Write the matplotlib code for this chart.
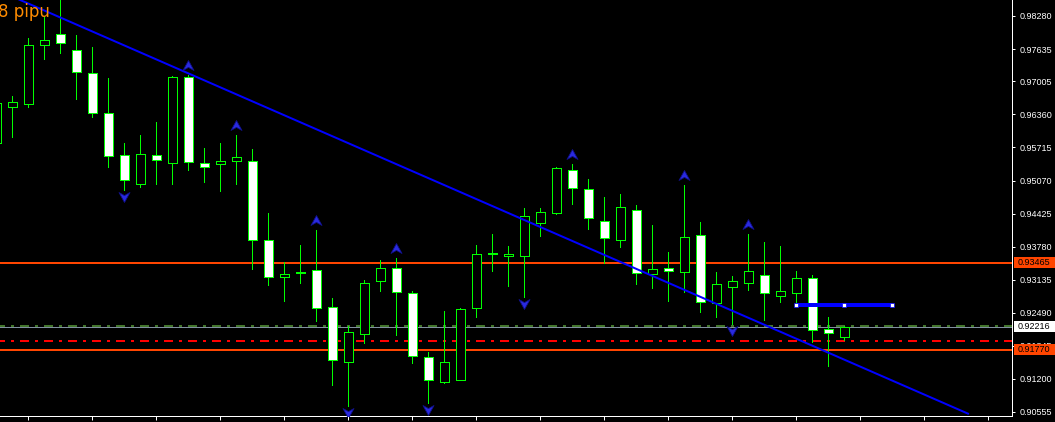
import matplotlib
matplotlib.use('Agg')
import matplotlib.pyplot as plt
from matplotlib.patches import Rectangle
from matplotlib.path import Path
from matplotlib.transforms import offset_copy, blended_transform_factory

# ---------------- data ----------------
opens = [0.95802, 0.96504, 0.96563, 0.97714, 0.97929, 0.97617, 0.97168, 0.96387, 0.95568, 0.95002,
         0.95568, 0.95412, 0.97090, 0.95412, 0.95392, 0.95451, 0.95451, 0.93910, 0.93188, 0.93266,
         0.93324, 0.92602, 0.91529, 0.92076, 0.93110, 0.93363, 0.92876, 0.91627, 0.91139, 0.91178,
         0.92583, 0.93637, 0.93597, 0.93597, 0.94241, 0.94436, 0.95275, 0.94905, 0.94280, 0.93910,
         0.94495, 0.93246, 0.93363, 0.93285, 0.94007, 0.92681, 0.92993, 0.93071, 0.93227, 0.92817,
         0.92876, 0.93168, 0.92173, 0.92017]
highs = [0.96641, 0.96719, 0.97851, 0.98260, 0.98630, 0.97909, 0.97675, 0.97070, 0.95802, 0.95958,
         0.96212, 0.97109, 0.97129, 0.95705, 0.95802, 0.95958, 0.95685, 0.94436, 0.93480, 0.93812,
         0.94105, 0.92778, 0.92232, 0.93129, 0.93519, 0.93558, 0.92915, 0.91725, 0.92524, 0.92583,
         0.93812, 0.94027, 0.93793, 0.94534, 0.94534, 0.95334, 0.95392, 0.95100, 0.94749, 0.94807,
         0.94592, 0.94202, 0.93676, 0.94983, 0.94261, 0.93285, 0.93207, 0.94027, 0.93871, 0.93793,
         0.93305, 0.93227, 0.92407, 0.92232]
lows = [0.95666, 0.95919, 0.96504, 0.97441, 0.97558, 0.96661, 0.96309, 0.95334, 0.94885, 0.94944,
        0.95002, 0.95002, 0.95275, 0.95041, 0.94866, 0.95002, 0.93344, 0.93032, 0.92720, 0.93071,
        0.92329, 0.91081, 0.90671, 0.91900, 0.92915, 0.92056, 0.91510, 0.90730, 0.91120, 0.91178,
        0.92407, 0.93305, 0.93012, 0.92798, 0.93988, 0.94417, 0.94612, 0.94124, 0.93461, 0.93773,
        0.93051, 0.92973, 0.92720, 0.92895, 0.92505, 0.92407, 0.92271, 0.92934, 0.92349, 0.92700,
        0.92622, 0.91920, 0.91451, 0.91959]
closes = [0.96582, 0.96602, 0.97714, 0.97812, 0.97753, 0.97187, 0.96387, 0.95548, 0.95080, 0.95588,
          0.95470, 0.97090, 0.95431, 0.95334, 0.95451, 0.95529, 0.93910, 0.93188, 0.93246, 0.93285,
          0.92583, 0.91568, 0.92115, 0.93071, 0.93363, 0.92895, 0.91646, 0.91178, 0.91529, 0.92563,
          0.93637, 0.93656, 0.93637, 0.94378, 0.94456, 0.95314, 0.94924, 0.94339, 0.93949, 0.94553,
          0.93266, 0.93344, 0.93305, 0.93968, 0.92700, 0.93051, 0.93110, 0.93305, 0.92876, 0.92915,
          0.93168, 0.92154, 0.92095, 0.92216]

up_fractals = [12, 15, 20, 25, 36, 43, 47]
down_fractals = [8, 22, 27, 33, 46]

level_high = 0.93465
level_low = 0.91770
bid_price = 0.92216
red_level = 0.91945
trend_x = [1.34, 60.73]
trend_y = [0.98613, 0.90522]
seg_x = [50, 53, 56]
seg_y = 0.92641

ytick_labels = ["0.98280", "0.97635", "0.97005", "0.96360", "0.95715", "0.95070", "0.94425",
                "0.93780", "0.93135", "0.92490", "0.91845", "0.91200", "0.90555"]
title_text = "8 pipu"

# ---------------- figure ----------------
plt.rcParams['lines.scale_dashes'] = False
W, H = 1055, 422
fig = plt.figure(figsize=(W / 100, H / 100), dpi=100, facecolor='black')
ax = fig.add_axes([0, 6 / H, 1012 / W, 416 / H])
ax.set_facecolor('black')
ax.set_xlim(0.231, 63.48)
ax.set_ylim(0.90476, 0.98592)

GREEN = '#00ff00'
px = 0.72  # one pixel in points

# horizontal levels
ax.axhline(level_high, color='#ff4500', lw=2 * px, zorder=1)
ax.axhline(level_low, color='#ff4500', lw=2 * px, zorder=1)
ax.axhline(red_level, color='#ff0000', lw=2 * px, zorder=1,
           linestyle=(4 * px, (9 * px, 6 * px, 3 * px, 6 * px)))
ax.axhline(bid_price + 0.0002, color='#5a9e3c', lw=1.5 * px, zorder=1,
           linestyle=(4 * px, (9 * px, 6 * px, 3 * px, 6 * px)))
ax.axhline(bid_price - 0.0001, color='#8090a0', lw=1 * px, zorder=1)

# candles
bw = 0.58
for k in range(len(opens)):
    o, h, l, c = opens[k], highs[k], lows[k], closes[k]
    ax.plot([k, k], [l, h], color=GREEN, lw=1 * px, zorder=3, antialiased=False,
            solid_capstyle='butt')
    bottom = min(o, c)
    height = abs(c - o)
    face = 'black' if c > o else 'white'
    ax.add_patch(Rectangle((k - bw / 2, bottom), bw, height, facecolor=face,
                           edgecolor=GREEN, lw=1 * px, zorder=4, antialiased=False))

# trend line
ax.plot(trend_x, trend_y, color='#0000ff', lw=2 * px, zorder=5)
# horizontal blue segment with handles
ax.plot([seg_x[0], seg_x[-1]], [seg_y, seg_y], color='#0000ff', lw=4 * px, zorder=6,
        solid_capstyle='butt')
ax.plot(seg_x, [seg_y] * len(seg_x), linestyle='none', marker='s', markersize=4 * px,
        markerfacecolor='white', markeredgecolor='#0000ff', markeredgewidth=0.5, zorder=7)

# fractal arrows
up_path = Path([(0, 0.9), (1, -0.9), (0, -0.35), (-1, -0.9), (0, 0.9)],
               [Path.MOVETO, Path.LINETO, Path.LINETO, Path.LINETO, Path.CLOSEPOLY])
down_path = Path([(0, -0.9), (1, 0.9), (0, 0.35), (-1, 0.9), (0, -0.9)],
                 [Path.MOVETO, Path.LINETO, Path.LINETO, Path.LINETO, Path.CLOSEPOLY])
tr_up = offset_copy(ax.transData, fig=fig, x=0, y=10, units='dots')
tr_dn = offset_copy(ax.transData, fig=fig, x=0, y=-7, units='dots')
ax.plot(up_fractals, [highs[k] for k in up_fractals], linestyle='none', marker=up_path,
        markersize=11 * px, markerfacecolor='#2a2ae0', markeredgecolor='#10108a',
        markeredgewidth=0.6, transform=tr_up, zorder=6, clip_on=False)
ax.plot(down_fractals, [lows[k] for k in down_fractals], linestyle='none', marker=down_path,
        markersize=11 * px, markerfacecolor='#2a2ae0', markeredgecolor='#10108a',
        markeredgewidth=0.6, transform=tr_dn, zorder=6)

# axes styling
for s in ['left', 'top']:
    ax.spines[s].set_visible(False)
for s in ['right', 'bottom']:
    ax.spines[s].set_color('white')
    ax.spines[s].set_linewidth(1 * px)
ax.yaxis.tick_right()
ax.set_yticks([float(t) for t in ytick_labels])
ax.set_yticklabels(ytick_labels, fontfamily='Liberation Sans', fontsize=6.5, color='white')
ax.tick_params(axis='y', colors='white', length=3 * px, width=1 * px, pad=3, direction='out')
ax.set_xticks(list(range(2, 63, 4)))
ax.set_xticklabels([])
ax.tick_params(axis='x', colors='white', length=4 * px, width=1 * px, direction='out')

# price label boxes on the right
btr = blended_transform_factory(fig.transFigure, ax.transData)
box_h = 11 * (0.98592 - 0.90476) / 416
for price, fc in [(level_high, '#ff4500'), (level_low, '#ff4500'), (bid_price, 'white')]:
    ax.add_patch(Rectangle((1014 / W, price - box_h / 2), 41 / W, box_h, transform=btr,
                           facecolor=fc, edgecolor='none', clip_on=False, zorder=10))
    ax.text(1018 / W, price, f"{price:.5f}", transform=btr, fontfamily='Liberation Sans',
            fontsize=6.5, color='black', va='center', ha='left', zorder=11, clip_on=False)

# top-left text
fig.text(-2 / W, 1 - 17 / H, title_text, color='#ff8c00', fontsize=12, ha='left',
         va='baseline', fontfamily='DejaVu Sans')

fig.savefig('out.png', dpi=100, facecolor='black')
